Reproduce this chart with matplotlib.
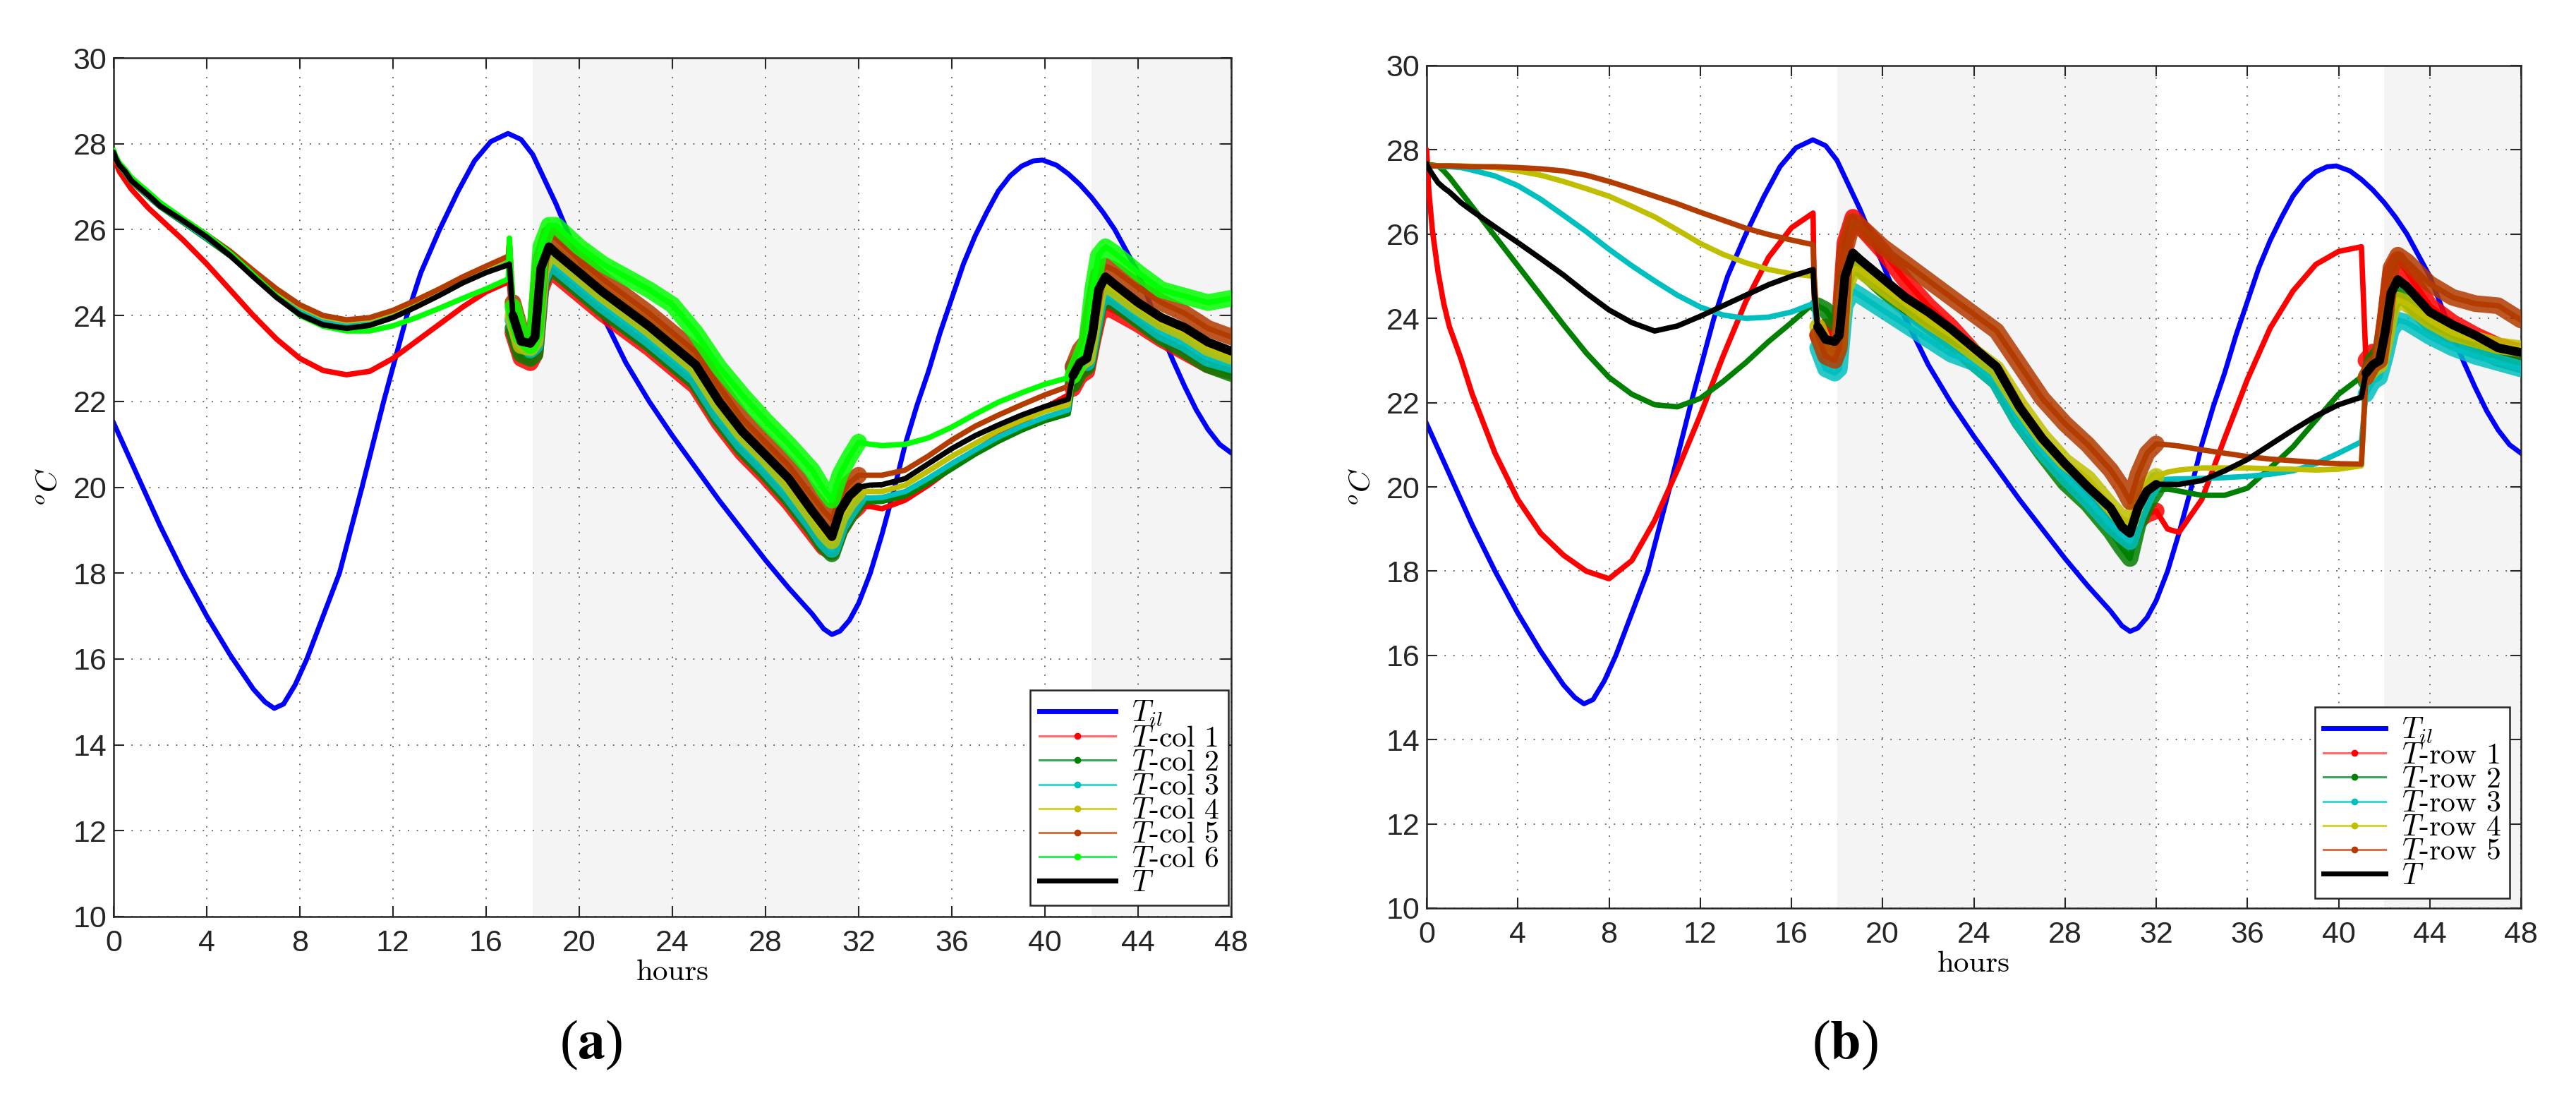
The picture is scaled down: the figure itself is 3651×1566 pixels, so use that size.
import numpy as np
import matplotlib
matplotlib.use('Agg')
import matplotlib.pyplot as plt
from matplotlib.lines import Line2D

plt.rcParams['font.family'] = ['Liberation Sans', 'DejaVu Sans']
plt.rcParams['mathtext.fontset'] = 'cm'
plt.rcParams['axes.unicode_minus'] = False

# ---------------------------------------------------------------- data
# time axis shared by the column / row series (hours)
HOURS = [0, 0.1, 0.25, 0.5, 0.75, 1, 1.5, 2, 3, 4, 5, 6, 7, 8, 9, 10, 11, 12, 13, 14, 15, 16, 16.95,
         17.0, 17.15, 17.5, 17.9, 18.1, 18.35, 18.7,
         19, 20, 21, 22, 23, 24, 25, 26, 27, 28, 29, 30, 30.5, 30.85, 31.2, 31.6, 32,
         32.5, 33, 34, 35, 36, 37, 38, 39, 40, 41,
         41.2, 41.5, 41.8, 42.05, 42.3, 42.6, 43, 44, 45, 46, 47, 48]

# outdoor temperature T_il (same on both panels)
TIL_HOURS = [0, 1, 2, 3, 4, 5, 6, 6.5, 6.9, 7.3, 7.8, 8.3, 9.0, 9.7, 10.67, 11.6, 12.6, 13.2, 14.0,
             14.8, 15.5, 16.2, 16.94, 17.5, 18.0, 19, 20, 21, 22, 23, 24, 25, 26, 27, 28, 29, 30,
             30.5, 30.85, 31.2, 31.6, 32, 32.5, 33, 33.5, 34, 34.5, 35, 35.5, 36, 36.5, 37, 37.5,
             38, 38.5, 39, 39.5, 39.9, 40.5, 41, 41.5, 42, 42.5, 43, 43.5, 44, 44.5, 45, 45.5,
             46, 46.5, 47, 47.5, 48]
T_IL = [21.5, 20.3, 19.1, 18.0, 17.0, 16.1, 15.3, 15.0, 14.85, 14.95, 15.4, 16.0, 17.0, 18.0, 20.0,
        22.0, 24.0, 25.0, 26.0, 26.9, 27.6, 28.05, 28.24, 28.1, 27.75, 26.6, 25.3, 24.0, 22.9, 22.0,
        21.2, 20.45, 19.7, 19.0, 18.3, 17.65, 17.05, 16.7, 16.57, 16.65, 16.9, 17.3, 18.0, 18.9,
        19.9, 21.0, 21.9, 22.7, 23.6, 24.4, 25.2, 25.85, 26.4, 26.9, 27.25, 27.48, 27.6, 27.62,
        27.5, 27.3, 27.05, 26.75, 26.4, 26.0, 25.5, 25.0, 24.3, 23.6, 22.95, 22.35, 21.8, 21.35,
        21.0, 20.8]

# panel (a): columns
COL1 = ([27.75, 27.55, 27.35, 27.15, 26.95, 26.8, 26.5, 26.25, 25.75, 25.2, 24.6, 24.0, 23.45, 23.0,
         22.72, 22.62, 22.7, 23.0, 23.4, 23.8, 24.2, 24.55, 24.78]
        + [24.8, 23.6, 23.0, 22.9, 23.1, 24.6, 25.1]
        + [24.95, 24.5, 24.05, 23.65, 23.25, 22.8, 22.35, 21.5, 20.8, 20.25, 19.65, 18.95, 18.6, 18.5,
           19.0, 19.35, 19.55]
        + [19.55, 19.5, 19.7, 20.05, 20.45, 20.85, 21.2, 21.5, 21.85, 22.15]
        + [22.3, 22.6, 22.7, 23.4, 24.0, 24.2, 24.1, 23.8, 23.45, 23.15, 22.85, 22.7])
COL2 = ([27.8, 27.64, 27.48, 27.32, 27.13, 27.0, 26.76, 26.53, 26.16, 25.78, 25.39, 24.94, 24.51, 24.14,
         23.89, 23.79, 23.84, 24.01, 24.25, 24.51, 24.79, 25.04, 25.27]
        + [25.3, 23.7, 23.1, 23.0, 23.1, 24.7, 25.2]
        + [25.05, 24.6, 24.15, 23.75, 23.35, 22.9, 22.45, 21.6, 20.9, 20.35, 19.75, 19.05, 18.65, 18.45,
           19.0, 19.35, 19.65]
        + [19.66, 19.67, 19.8, 20.1, 20.43, 20.77, 21.07, 21.33, 21.55, 21.71]
        + [22.4, 22.7, 22.8, 23.5, 24.2, 24.4, 24.3, 23.9, 23.5, 23.2, 22.85, 22.65])
COL3 = ([27.8, 27.64, 27.49, 27.33, 27.14, 27.02, 26.78, 26.55, 26.18, 25.8, 25.42, 24.97, 24.54, 24.17,
         23.92, 23.82, 23.87, 24.04, 24.28, 24.54, 24.82, 25.07, 25.3]
        + [25.3, 23.9, 23.4, 23.2, 23.3, 24.8, 25.3]
        + [25.15, 24.7, 24.25, 23.85, 23.45, 23.0, 22.55, 21.7, 21.0, 20.45, 19.85, 19.15, 18.75, 18.55,
           19.1, 19.45, 19.75]
        + [19.75, 19.76, 19.9, 20.21, 20.55, 20.87, 21.17, 21.42, 21.63, 21.8]
        + [22.8, 23.0, 22.9, 23.6, 24.3, 24.5, 24.4, 24.0, 23.6, 23.35, 23.0, 22.85])
COL4 = ([27.8, 27.65, 27.5, 27.35, 27.16, 27.04, 26.8, 26.58, 26.22, 25.85, 25.47, 25.02, 24.59, 24.22,
         23.97, 23.87, 23.92, 24.09, 24.33, 24.59, 24.87, 25.12, 25.35]
        + [25.8, 24.0, 23.3, 23.25, 23.4, 25.0, 25.5]
        + [25.4, 24.95, 24.5, 24.1, 23.7, 23.25, 22.8, 21.95, 21.25, 20.7, 20.1, 19.35, 18.95, 18.75,
           19.3, 19.65, 19.9]
        + [19.9, 19.9, 20.05, 20.38, 20.72, 21.02, 21.32, 21.56, 21.77, 21.92]
        + [22.6, 22.9, 23.0, 23.8, 24.55, 24.75, 24.6, 24.2, 23.85, 23.6, 23.25, 23.05])
COL5 = ([27.8, 27.65, 27.5, 27.35, 27.17, 27.05, 26.82, 26.6, 26.24, 25.88, 25.5, 25.05, 24.62, 24.25,
         24.0, 23.9, 23.95, 24.12, 24.36, 24.62, 24.9, 25.15, 25.38]
        + [25.7, 24.3, 23.6, 23.5, 23.7, 25.3, 25.9]
        + [25.8, 25.3, 24.85, 24.45, 24.05, 23.6, 23.15, 22.35, 21.6, 21.05, 20.5, 19.8, 19.45, 19.25,
           19.8, 20.1, 20.28]
        + [20.28, 20.28, 20.4, 20.73, 21.1, 21.42, 21.68, 21.92, 22.15, 22.35]
        + [22.8, 23.2, 23.4, 24.2, 24.95, 25.15, 25.05, 24.65, 24.3, 24.05, 23.7, 23.5])
COL6 = ([27.85, 27.7, 27.55, 27.4, 27.22, 27.1, 26.87, 26.63, 26.25, 25.88, 25.45, 24.95, 24.45, 24.0,
         23.75, 23.64, 23.64, 23.76, 23.95, 24.17, 24.4, 24.62, 24.85]
        + [25.8, 24.2, 23.5, 23.3, 23.6, 25.6, 26.1]
        + [26.1, 25.6, 25.2, 24.9, 24.6, 24.25, 23.6, 22.8, 22.15, 21.55, 21.0, 20.4, 19.95, 19.7,
           20.3, 20.7, 21.05]
        + [21.0, 20.97, 21.0, 21.15, 21.4, 21.7, 21.98, 22.2, 22.4, 22.55]
        + [22.6, 23.0, 23.4, 24.6, 25.4, 25.6, 25.45, 25.0, 24.6, 24.45, 24.3, 24.4])
T_LEFT = ([27.8, 27.65, 27.5, 27.35, 27.15, 27.03, 26.8, 26.55, 26.2, 25.83, 25.4, 24.9, 24.42, 24.02,
           23.78, 23.7, 23.77, 23.95, 24.2, 24.47, 24.76, 25.0, 25.18]
          + [25.2, 24.0, 23.4, 23.35, 23.5, 25.1, 25.6]
          + [25.45, 25.0, 24.55, 24.15, 23.75, 23.3, 22.85, 22.0, 21.3, 20.75, 20.2, 19.45, 19.1, 18.85,
             19.45, 19.8, 20.0]
          + [20.05, 20.06, 20.2, 20.55, 20.9, 21.2, 21.45, 21.68, 21.88, 22.05]
          + [22.6, 22.9, 23.0, 23.6, 24.6, 24.9, 24.72, 24.3, 23.95, 23.72, 23.38, 23.17])

# panel (b): rows
ROW1 = ([28.0, 27.0, 26.1, 25.1, 24.35, 23.8, 23.05, 22.2, 20.8, 19.7, 18.9, 18.38, 18.0, 17.82,
         18.25, 19.2, 20.4, 21.7, 23.1, 24.4, 25.45, 26.15, 26.5]
        + [24.5, 23.6, 23.8, 23.5, 23.8, 25.8, 26.4]
        + [26.2, 25.6, 24.9, 24.3, 23.8, 23.2, 22.7, 21.75, 21.0, 20.4, 19.85, 19.2, 18.85, 18.7,
           19.2, 19.35, 19.43]
        + [19.0, 18.92, 19.7, 21.15, 22.55, 23.77, 24.65, 25.28, 25.59, 25.7]
        + [23.0, 23.2, 23.0, 24.0, 25.1, 25.4, 25.1, 24.3, 23.9, 23.6, 23.35, 23.2])
ROW2 = ([27.65, 27.65, 27.64, 27.62, 27.5, 27.35, 27.0, 26.65, 25.95, 25.25, 24.55, 23.85, 23.18, 22.6,
         22.2, 21.95, 21.9, 22.1, 22.5, 22.95, 23.45, 23.9, 24.35]
        + [24.4, 24.3, 24.2, 23.9, 23.8, 24.9, 25.4]
        + [25.2, 24.7, 24.25, 23.85, 23.45, 22.95, 22.5, 21.55, 20.8, 20.1, 19.6, 18.95, 18.55, 18.3,
           19.1, 19.6, 19.92]
        + [19.95, 19.9, 19.8, 19.8, 19.97, 20.45, 20.95, 21.58, 22.2, 22.61]
        + [22.5, 23.0, 23.2, 23.6, 24.3, 24.6, 24.45, 23.86, 23.55, 23.3, 23.05, 22.9])
ROW3 = ([27.62, 27.62, 27.62, 27.61, 27.6, 27.6, 27.58, 27.52, 27.38, 27.15, 26.83, 26.45, 26.06, 25.64,
         25.25, 24.89, 24.55, 24.27, 24.08, 24.0, 24.03, 24.15, 24.35]
        + [24.4, 23.3, 22.8, 22.7, 22.8, 24.3, 24.65]
        + [24.55, 24.2, 23.85, 23.5, 23.15, 22.95, 22.5, 21.55, 20.85, 20.25, 19.7, 19.1, 18.85, 18.7,
           19.3, 19.8, 20.16]
        + [20.18, 20.19, 20.2, 20.22, 20.25, 20.3, 20.38, 20.55, 20.8, 21.07]
        + [22.2, 22.5, 22.6, 23.1, 23.7, 23.96, 23.9, 23.57, 23.3, 23.1, 22.95, 22.8])
ROW4 = ([27.62, 27.62, 27.62, 27.62, 27.62, 27.62, 27.62, 27.61, 27.58, 27.5, 27.4, 27.25, 27.08, 26.9,
         26.66, 26.41, 26.1, 25.78, 25.52, 25.32, 25.16, 25.06, 25.0]
        + [25.0, 23.8, 23.3, 23.2, 23.4, 24.7, 25.2]
        + [25.15, 24.75, 24.35, 23.95, 23.6, 23.2, 22.8, 21.95, 21.2, 20.6, 20.2, 19.55, 19.25, 19.15,
           19.75, 20.05, 20.25]
        + [20.35, 20.4, 20.45, 20.45, 20.45, 20.43, 20.42, 20.4, 20.42, 20.5]
        + [22.6, 22.8, 22.9, 23.5, 24.2, 24.44, 24.35, 23.95, 23.65, 23.5, 23.35, 23.28])
ROW5 = ([27.62, 27.62, 27.62, 27.62, 27.62, 27.62, 27.61, 27.6, 27.6, 27.58, 27.55, 27.5, 27.4, 27.25,
         27.08, 26.9, 26.72, 26.52, 26.33, 26.14, 25.99, 25.86, 25.75]
        + [25.0, 23.6, 23.1, 23.0, 23.3, 25.6, 26.3]
        + [26.2, 25.7, 25.3, 24.9, 24.5, 24.1, 23.7, 22.9, 22.1, 21.5, 21.0, 20.4, 20.0, 19.65,
           20.3, 20.8, 21.02]
        + [21.0, 20.97, 20.88, 20.8, 20.72, 20.66, 20.62, 20.58, 20.55, 20.54]
        + [22.6, 22.9, 23.0, 24.0, 25.2, 25.5, 25.35, 24.82, 24.5, 24.35, 24.3, 23.96])
T_RIGHT = ([27.67, 27.55, 27.42, 27.22, 27.1, 27.0, 26.75, 26.55, 26.17, 25.8, 25.42, 25.03, 24.6, 24.2,
            23.9, 23.7, 23.82, 24.05, 24.3, 24.55, 24.8, 25.0, 25.16]
           + [24.6, 23.8, 23.5, 23.45, 23.6, 25.0, 25.55]
           + [25.4, 24.95, 24.5, 24.15, 23.75, 23.3, 22.85, 21.9, 21.15, 20.55, 20.0, 19.5, 19.05, 18.9,
              19.5, 19.9, 20.06]
           + [20.06, 20.06, 20.15, 20.38, 20.65, 21.0, 21.35, 21.68, 21.95, 22.13]
           + [22.7, 22.9, 23.0, 23.7, 24.6, 24.92, 24.75, 24.15, 23.85, 23.6, 23.3, 23.19])

LEFT_LABELS = [r'$T_{il}$', r'$T$-col 1', r'$T$-col 2', r'$T$-col 3', r'$T$-col 4',
               r'$T$-col 5', r'$T$-col 6', r'$T$']
RIGHT_LABELS = [r'$T_{il}$', r'$T$-row 1', r'$T$-row 2', r'$T$-row 3', r'$T$-row 4',
                r'$T$-row 5', r'$T$']
X_TICKS = list(range(0, 49, 4))
Y_TICKS = list(range(10, 31, 2))
SHADED = [(18, 32), (42, 48)]
NOISY = [(17.15, 32.0), (41.2, 48.0)]

COLORS = ['#ff0000', '#008000', '#00bfbf', '#bfbf00', '#b33c00', '#00ff00']
LEGEND_COLORS = ['#ff6b6b', '#3aa85a', '#3ad6d6', '#d2d23c', '#d9704a', '#2cf05c']

for s in (COL1, COL2, COL3, COL4, COL5, COL6, T_LEFT, ROW1, ROW2, ROW3, ROW4, ROW5, T_RIGHT):
    assert len(s) == len(HOURS), len(s)
assert len(TIL_HOURS) == len(T_IL)

W, H = 3651, 1566


def draw_series(ax, y, color, lw, lw_noisy, z, alpha_noisy=0.85):
    h = np.asarray(HOURS)
    y = np.asarray(y)
    ax.plot(h, y, color=color, lw=lw, zorder=z, solid_joinstyle='round', solid_capstyle='round')
    # sensor noise in the occupied periods: drawn as a wider band
    for lo, hi in NOISY:
        m = (h >= lo) & (h <= hi)
        ax.plot(h[m], y[m], color=color, lw=lw_noisy, alpha=alpha_noisy, zorder=z,
                solid_joinstyle='round', solid_capstyle='round')


def setup_axes(ax):
    for lo, hi in SHADED:
        ax.axvspan(lo, hi, color='#f4f4f4', lw=0, zorder=0)
    ax.set_xlim(0, 48)
    ax.set_ylim(10, 30)
    ax.set_xticks(X_TICKS)
    ax.set_yticks(Y_TICKS)
    ax.set_axisbelow(True)
    ax.grid(True, color='#5a5a5a', lw=1.3, linestyle=(0, (1, 6)))
    ax.tick_params(direction='in', top=True, right=True, length=11, width=1.5,
                   colors='#262626', labelsize=31)
    ax.tick_params(axis='x', pad=13)
    ax.tick_params(axis='y', pad=7)
    for sp in ax.spines.values():
        sp.set_linewidth(1.8)
        sp.set_color('#262626')
    ax.set_xlabel('hours', fontfamily='cmr10', fontsize=31, labelpad=2)
    ax.set_ylabel(r'$^oC$', fontsize=31, labelpad=10)


def add_legend(ax, labels, n_series, anchor, handlelength):
    handles = [Line2D([], [], color='#0000ff', lw=5)]
    for i in range(n_series):
        handles.append(Line2D([], [], color=LEGEND_COLORS[i], lw=2.2, marker='o', markersize=6,
                              markerfacecolor=COLORS[i], markeredgecolor=COLORS[i]))
    handles.append(Line2D([], [], color='k', lw=5))
    leg = ax.legend(handles, labels, loc='lower right', bbox_to_anchor=anchor,
                    prop={'family': 'cmr10', 'size': 30}, handlelength=handlelength,
                    handletextpad=0.55, labelspacing=-0.08, borderpad=0.3, borderaxespad=0,
                    fancybox=False, framealpha=1, edgecolor='#262626', numpoints=1)
    leg.get_frame().set_linewidth(1.8)
    leg.set_zorder(20)


fig = plt.figure(figsize=(W / 100, H / 100), dpi=100)
ax1 = fig.add_axes([161 / W, 1 - 1299 / H, (1745 - 161) / W, (1299 - 82) / H])
ax2 = fig.add_axes([2022 / W, 1 - 1287 / H, (3573 - 2022) / W, (1287 - 93) / H])

# panel (a)
setup_axes(ax1)
ax1.plot(TIL_HOURS, T_IL, color='#0000ff', lw=5, zorder=2)
for i, col in enumerate([COL1, COL2, COL3, COL4, COL5, COL6]):
    draw_series(ax1, col, COLORS[i], 5.5, 17, 3 + i)
draw_series(ax1, T_LEFT, 'k', 5.5, 9, 10, alpha_noisy=1)
add_legend(ax1, LEFT_LABELS, 6, (0.9975, 0.013), 2.6)

# panel (b)
setup_axes(ax2)
ax2.plot(TIL_HOURS, T_IL, color='#0000ff', lw=5, zorder=2)
for i, row in enumerate([ROW1, ROW2, ROW3, ROW4, ROW5]):
    draw_series(ax2, row, COLORS[i], 5.5, 17, 3 + i)
draw_series(ax2, T_RIGHT, 'k', 5.5, 9, 10, alpha_noisy=1)
add_legend(ax2, RIGHT_LABELS, 5, (0.9897, 0.0117), 2.1)

for x, lab in [(838, 'a'), (2615, 'b')]:
    fig.text(x / W, 1 - 1481 / H, r'($\mathbf{%s}$)' % lab, ha='center', va='center',
             fontsize=56, fontfamily='Liberation Serif', math_fontfamily='stix')

fig.savefig('out.png', dpi=100)
